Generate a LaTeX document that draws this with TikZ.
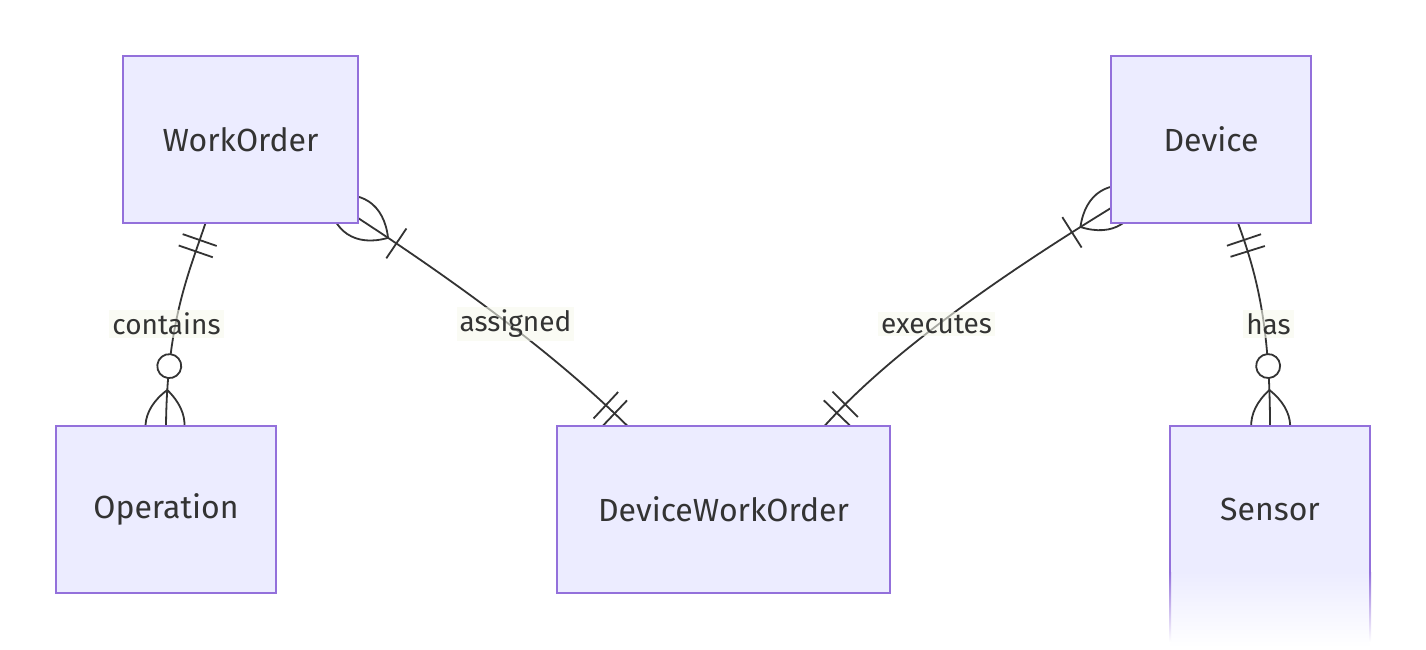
\documentclass[tikz,border=0pt]{standalone}
\usepackage{fontspec}
\setmainfont{Fira Sans}
\usetikzlibrary{decorations.markings,calc}
\definecolor{boxfill}{HTML}{ECECFF}
\definecolor{boxline}{HTML}{9370DB}
\definecolor{ink}{HTML}{333333}
\definecolor{lblbg}{HTML}{F6F9EC}
\pgfkeys{/pgf/decoration/barmark/.style={mark=at position #1 with {\draw[draw=ink, line width=1.8pt] (0,-18) -- (0,18);}}}
\tikzset{
  entity/.style={draw=boxline, fill=boxfill, line width=2pt, text=ink, font=\fontsize{32}{34}\selectfont},
  plainent/.style={text=ink, font=\fontsize{32}{34}\selectfont},
  rel/.style={draw=ink, line width=1.8pt},
  mk/.style={draw=ink, line width=1.8pt},
  lbl/.style={fill=lblbg, fill opacity=0.6, text opacity=1, text=ink, inner sep=3pt, font=\fontsize{28}{30}\selectfont},
  onlyonestart/.style={postaction={decorate, decoration={markings, barmark=18pt, barmark=30pt}}},
  onlyoneend/.style={postaction={decorate, decoration={markings, barmark=-30pt, barmark=-18pt}}},
  zeromanyend/.style={postaction={decorate, decoration={markings,
     mark=at position -60pt with {\draw[mk, fill=white] (0,0) circle[radius=12];},
     mark=at position -36pt with {\draw[mk] (0,0) .. controls (22,26) and (50,26) .. (72,0);
                                 \draw[mk] (0,0) .. controls (22,-26) and (50,-26) .. (72,0);}}}},
  onemanystart/.style={postaction={decorate, decoration={markings,
     mark=at position 36pt with {\draw[mk] (0,0) .. controls (-22,26) and (-50,26) .. (-72,0);
                                \draw[mk] (0,0) .. controls (-22,-26) and (-50,-26) .. (-72,0);},
     barmark=46pt}}},
}
\begin{document}
\begin{tikzpicture}[x=1pt,y=-1pt]
\useasboundingbox (0,0) rectangle (1426,650);
\path (240.5,139.5) coordinate (woc) (1211,139.5) coordinate (devc)
      (166,509.5) coordinate (opc) (723.5,509.5) coordinate (dwoc) (1270,509.5) coordinate (sec);
\node[minimum width=235pt, minimum height=167pt, inner sep=0pt, outer sep=0pt] (wo) at (woc) {};
\node[minimum width=200pt, minimum height=167pt, inner sep=0pt, outer sep=0pt] (dev) at (devc) {};
\node[minimum width=220pt, minimum height=167pt, inner sep=0pt, outer sep=0pt] (op) at (opc) {};
\node[minimum width=333pt, minimum height=167pt, inner sep=0pt, outer sep=0pt] (dwo) at (dwoc) {};
\node[minimum width=200pt, minimum height=167pt, inner sep=0pt, outer sep=0pt] (se) at (sec) {};
% connectors
\draw[rel, onlyonestart, zeromanyend] ([xshift=-35pt]wo.south) .. controls (190,270) and (167,320) .. (op.north);
\draw[rel, onemanystart, onlyoneend] ([yshift=5pt]wo.south east) .. controls (473,293) and (564,363) .. ([xshift=-96pt]dwo.north);
\draw[rel, onemanystart, onlyoneend] ([yshift=15pt]dev.south west) .. controls (979,289) and (883,361) .. ([xshift=101pt]dwo.north);
\draw[rel, onlyonestart, zeromanyend] ([xshift=27pt]dev.south) .. controls (1255,270) and (1270,320) .. (se.north);
% labels
\node[lbl] (l1) at (166.5,324) {contains};
\node[lbl] (l2) at (515.5,324) {assigned};
\node[lbl] (l3) at (936.5,324) {executes};
\node[lbl] (l4) at (1268.5,324) {has};
% entities
\node[entity, minimum width=235pt, minimum height=167pt] (woN) at (woc) {WorkOrder};
\node[entity, minimum width=200pt, minimum height=167pt] (devN) at (devc) {Device};
\node[entity, minimum width=220pt, minimum height=167pt] (opN) at (opc) {Operation};
\node[entity, minimum width=333pt, minimum height=167pt] (dwoN) at (dwoc) {DeviceWorkOrder};
% Sensor box with faded lower part
\fill[boxfill] (se.north west) rectangle ($(se.north east)+(0,146)$);
\shade[top color=boxfill, bottom color=white] ($(se.north west)+(0,145)$) rectangle ($(se.north east)+(0,222)$);
\shade[top color=boxline, bottom color=white] ($(se.north west)+(-1,146)$) rectangle ($(se.north west)+(1,216)$);
\shade[top color=boxline, bottom color=white] ($(se.north east)+(-1,146)$) rectangle ($(se.north east)+(1,216)$);
\draw[boxline, line width=2pt] ($(se.north west)+(0,146)$) -- (se.north west) -- (se.north east) -- ($(se.north east)+(0,146)$);
\node[plainent] (seN) at (sec) {Sensor};
\end{tikzpicture}
\end{document}
